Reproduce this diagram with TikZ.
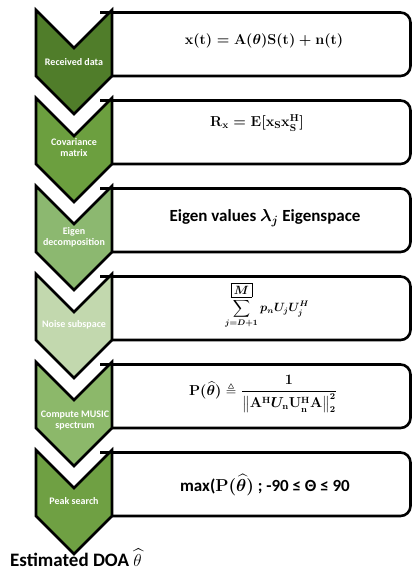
\documentclass[tikz,border=0pt]{standalone}
\usepackage{amsmath,amssymb,bm}
\usepackage{fontspec}
\setmainfont{Carlito}
\definecolor{gA}{HTML}{507D2A}
\definecolor{gB}{HTML}{6C9F3F}
\definecolor{gC}{HTML}{8CB870}
\definecolor{gD}{HTML}{C2D8AE}
\definecolor{gE}{HTML}{8CB86A}
\definecolor{gF}{HTML}{6FA043}
% formula texts
\newcommand{\fxt}{$\mathbf{x(t) = A(}\bm{\theta}\mathbf{)S(t) + n(t)}$}
\newcommand{\frx}{$\mathbf{R_x = E[x_S x_S^H]}$}
\newcommand{\feig}{Eigen values $\bm{\lambda_j}$ Eigenspace}
\newcommand{\fsum}{$\displaystyle\sum_{\bm{j=D+1}}^{\boxed{\bm{M}}} \bm{p_n U_j U_j^H}$}
\newcommand{\fmus}{$\mathbf{P}(\widehat{\bm{\theta}})\triangleq \dfrac{\mathbf{1}}{\left\|\mathbf{A^H}\bm{U}_{\mathbf{n}}\mathbf{U_n^H A}\right\|_2^2}$}
\newcommand{\fpk}{max($\mathbf{P}(\widehat{\bm{\theta}})$ ; -90 ≤ Θ ≤ 90}
\tikzset{
  chev/.style={draw=black, line width=2.6pt, line join=miter},
  stepbox/.style={draw=black, line width=2.6pt, fill=white, rounded corners=10pt},
  lab/.style={text=white, font=\fontsize{10}{11}\selectfont\bfseries, align=center, inner sep=0pt},
  formula/.style={font=\fontsize{15}{18}\selectfont\mathversion{bold}, inner sep=0pt}
}
\begin{document}
\begin{tikzpicture}[x=1pt,y=-1pt]
\useasboundingbox (0,0) rectangle (413,571);
% step boxes (open on the left, hidden behind the chevrons)
\foreach \yy in {10,98,186,274,362,450}{
  \draw[stepbox] (100,{\yy+2.5}) -- (410.5,{\yy+2.5}) -- (410.5,{\yy+66}) -- (100,{\yy+66});
}
% chevrons
\foreach \yy/\cc in {10/gA,98/gB,186/gC,274/gD,362/gE,450/gF}{
  \draw[chev, fill=\cc] (36,\yy) -- (74,{\yy+38}) -- (112,\yy) -- (112,{\yy+66})
    -- (74,{\yy+104}) -- (36,{\yy+66}) -- cycle;
}
% chevron labels
\node[lab] (l1) at (74,62) {Received data};
\node[lab] (l2) at (74,148) {Covariance\\matrix};
\node[lab] (l3) at (74,237) {Eigen\\decomposition};
\node[lab] (l4) at (74,325) {Noise subspace};
\node[lab] (l5) at (75,421) {Compute MUSIC\\spectrum};
\node[lab] (l6) at (74,501) {Peak search};
% formulas
\node[formula] (e1) at (264,41) {\fxt};
\node[formula, font=\fontsize{14}{17}\selectfont\mathversion{bold}] (e2) at (257,123) {\frx};
\node[formula, font=\fontsize{17}{20}\selectfont\bfseries\mathversion{bold}] (e3) at (265,218) {\feig};
\node[formula, font=\fontsize{12}{14}\selectfont\mathversion{bold}] (e4) at (267,305) {\fsum};
\node[formula, font=\fontsize{13.5}{16}\selectfont\mathversion{bold}] (e5) at (263,394) {\fmus};
\node[formula, font=\fontsize{17}{20}\selectfont\bfseries\mathversion{bold}] (e6) at (265,485) {\fpk};
% result
\node[anchor=base west, inner sep=0pt, font=\fontsize{19}{22}\selectfont\bfseries] (out) at (10,566.5) {Estimated DOA $\widehat{\theta}$};
\end{tikzpicture}
\end{document}
